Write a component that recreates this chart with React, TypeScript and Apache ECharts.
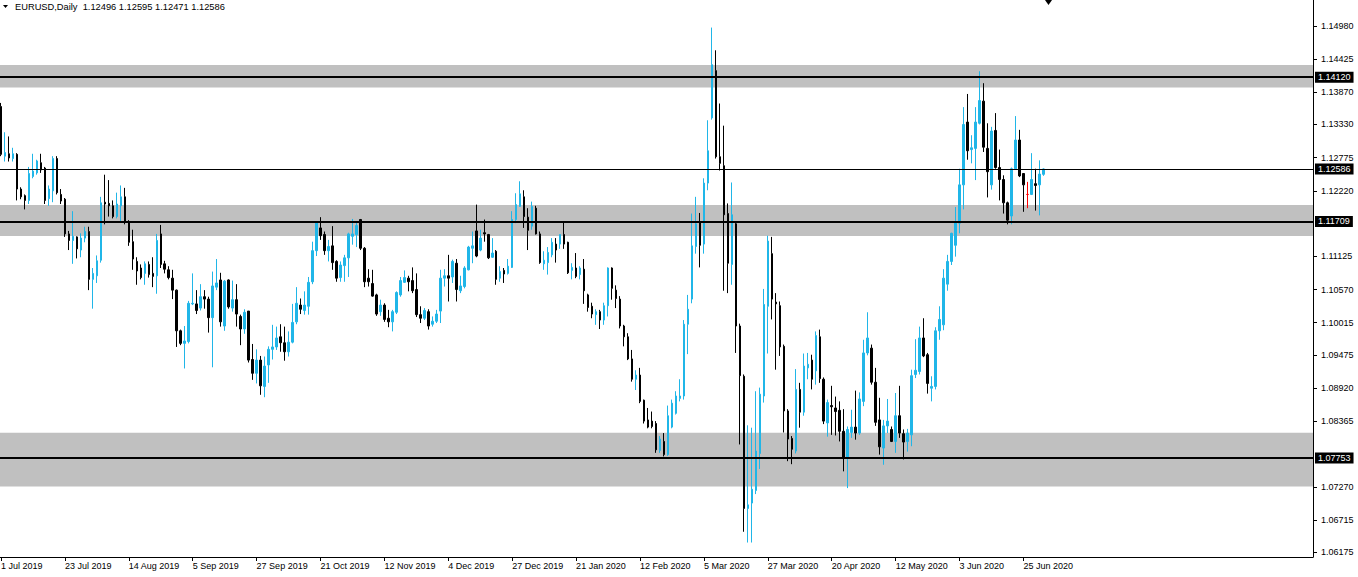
import React, { useEffect, useRef } from "react";
import * as echarts from "echarts";

// [open, high, low, close] per daily bar, EURUSD from 1 Jul 2019
const ohlc: [number, number, number, number][] = [
  [1.1363, 1.1369, 1.1280, 1.1283], [1.1280, 1.1320, 1.1271, 1.1286], [1.1284, 1.1313, 1.1271, 1.1277], [1.1276, 1.1294, 1.1271, 1.1284],
  [1.1283, 1.1285, 1.1206, 1.1225], [1.1225, 1.1228, 1.1208, 1.1212], [1.1214, 1.1216, 1.1191, 1.1206], [1.1206, 1.1262, 1.1200, 1.1251],
  [1.1246, 1.1284, 1.1243, 1.1255], [1.1252, 1.1274, 1.1249, 1.1272], [1.1269, 1.1284, 1.1252, 1.1257], [1.1260, 1.1262, 1.1200, 1.1206],
  [1.1209, 1.1231, 1.1197, 1.1225], [1.1222, 1.1280, 1.1203, 1.1276], [1.1276, 1.1280, 1.1216, 1.1219], [1.1216, 1.1225, 1.1200, 1.1205],
  [1.1208, 1.1210, 1.1145, 1.1150], [1.1150, 1.1155, 1.1123, 1.1139], [1.1139, 1.1188, 1.1100, 1.1146], [1.1145, 1.1146, 1.1109, 1.1125],
  [1.1123, 1.1151, 1.1111, 1.1143], [1.1143, 1.1162, 1.1136, 1.1154], [1.1154, 1.1162, 1.1056, 1.1074], [1.1074, 1.1093, 1.1025, 1.1084],
  [1.1080, 1.1114, 1.1068, 1.1105], [1.1106, 1.1212, 1.1102, 1.1202], [1.1203, 1.1249, 1.1166, 1.1200], [1.1201, 1.1240, 1.1179, 1.1197],
  [1.1197, 1.1206, 1.1176, 1.1179], [1.1179, 1.1219, 1.1176, 1.1200], [1.1197, 1.1231, 1.1170, 1.1212], [1.1212, 1.1227, 1.1166, 1.1170],
  [1.1170, 1.1173, 1.1130, 1.1136], [1.1137, 1.1157, 1.1090, 1.1108], [1.1104, 1.1111, 1.1065, 1.1088], [1.1093, 1.1099, 1.1074, 1.1077],
  [1.1084, 1.1104, 1.1065, 1.1100], [1.1099, 1.1104, 1.1077, 1.1082], [1.1084, 1.1111, 1.1061, 1.1079], [1.1080, 1.1150, 1.1050, 1.1139],
  [1.1150, 1.1165, 1.1093, 1.1099], [1.1100, 1.1105, 1.1084, 1.1091], [1.1090, 1.1096, 1.1074, 1.1077], [1.1076, 1.1090, 1.1041, 1.1056],
  [1.1056, 1.1057, 1.0961, 1.0988], [1.0988, 1.0990, 1.0964, 1.0967], [1.0967, 1.0996, 1.0925, 1.0971], [1.0970, 1.1038, 1.0967, 1.1034],
  [1.1033, 1.1084, 1.1031, 1.1034], [1.1033, 1.1056, 1.1016, 1.1022], [1.1026, 1.1066, 1.1022, 1.1045], [1.1045, 1.1056, 1.1025, 1.1041],
  [1.1041, 1.1045, 1.0985, 1.1010], [1.1010, 1.1087, 1.0927, 1.1063], [1.1061, 1.1108, 1.1056, 1.1068], [1.1073, 1.1085, 1.0995, 1.1003],
  [1.0996, 1.1073, 1.0988, 1.1071], [1.1073, 1.1074, 1.1025, 1.1028], [1.1026, 1.1072, 1.1020, 1.1040], [1.1040, 1.1066, 1.0995, 1.1016],
  [1.1012, 1.1015, 1.0964, 1.0991], [1.0991, 1.1024, 1.0983, 1.1019], [1.1021, 1.1021, 1.0935, 1.0939], [1.0940, 1.0966, 1.0906, 1.0917],
  [1.0917, 1.0957, 1.0900, 1.0939], [1.0939, 1.0946, 1.0881, 1.0896], [1.0895, 1.0945, 1.0877, 1.0929], [1.0931, 1.0962, 1.0901, 1.0957],
  [1.0957, 1.0998, 1.0940, 1.0961], [1.0961, 1.0995, 1.0956, 1.0976], [1.0978, 1.0999, 1.0953, 1.0968], [1.0968, 1.0995, 1.0938, 1.0953],
  [1.0953, 1.0987, 1.0945, 1.0969], [1.0969, 1.1033, 1.0967, 1.1002], [1.1003, 1.1061, 1.0999, 1.1034], [1.1031, 1.1042, 1.1016, 1.1024],
  [1.1022, 1.1054, 1.1015, 1.1031], [1.1029, 1.1078, 1.1015, 1.1069], [1.1070, 1.1137, 1.1066, 1.1122], [1.1122, 1.1171, 1.1113, 1.1169],
  [1.1160, 1.1178, 1.1140, 1.1147], [1.1149, 1.1154, 1.1115, 1.1122], [1.1122, 1.1140, 1.1104, 1.1129], [1.1130, 1.1163, 1.1090, 1.1102],
  [1.1104, 1.1106, 1.1070, 1.1076], [1.1077, 1.1104, 1.1070, 1.1098], [1.1097, 1.1115, 1.1070, 1.1110], [1.1110, 1.1152, 1.1078, 1.1150],
  [1.1146, 1.1175, 1.1132, 1.1150], [1.1149, 1.1169, 1.1128, 1.1164], [1.1174, 1.1175, 1.1123, 1.1126], [1.1126, 1.1128, 1.1061, 1.1070],
  [1.1076, 1.1091, 1.1062, 1.1070], [1.1067, 1.1090, 1.1045, 1.1046], [1.1048, 1.1050, 1.1013, 1.1016], [1.1020, 1.1040, 1.1013, 1.1031],
  [1.1031, 1.1034, 1.1003, 1.1007], [1.1009, 1.1023, 1.0994, 1.1003], [1.1003, 1.1023, 1.0987, 1.1020], [1.1019, 1.1054, 1.1016, 1.1052],
  [1.1048, 1.1078, 1.1045, 1.1072], [1.1069, 1.1089, 1.1068, 1.1077], [1.1076, 1.1080, 1.1054, 1.1070], [1.1072, 1.1094, 1.1051, 1.1055],
  [1.1057, 1.1084, 1.1011, 1.1015], [1.1015, 1.1029, 1.1001, 1.1009], [1.1009, 1.1026, 1.1006, 1.1022], [1.1020, 1.1024, 1.0990, 1.0996],
  [1.0999, 1.1012, 1.0995, 1.1004], [1.1004, 1.1023, 1.1001, 1.1016], [1.1021, 1.1090, 1.1001, 1.1076], [1.1076, 1.1091, 1.1062, 1.1080],
  [1.1080, 1.1115, 1.1037, 1.1076], [1.1078, 1.1107, 1.1068, 1.1104], [1.1101, 1.1108, 1.1037, 1.1057], [1.1055, 1.1080, 1.1051, 1.1063],
  [1.1062, 1.1096, 1.1059, 1.1093], [1.1090, 1.1130, 1.1089, 1.1128], [1.1126, 1.1154, 1.1101, 1.1130], [1.1155, 1.1199, 1.1111, 1.1113],
  [1.1123, 1.1157, 1.1121, 1.1143], [1.1152, 1.1174, 1.1137, 1.1150], [1.1149, 1.1150, 1.1108, 1.1110], [1.1111, 1.1143, 1.1110, 1.1118],
  [1.1121, 1.1123, 1.1065, 1.1074], [1.1076, 1.1096, 1.1070, 1.1087], [1.1089, 1.1093, 1.1068, 1.1083], [1.1084, 1.1108, 1.1082, 1.1096],
  [1.1094, 1.1188, 1.1093, 1.1174], [1.1174, 1.1218, 1.1168, 1.1199], [1.1196, 1.1238, 1.1195, 1.1217], [1.1212, 1.1223, 1.1160, 1.1179],
  [1.1178, 1.1193, 1.1123, 1.1156], [1.1163, 1.1204, 1.1157, 1.1196], [1.1193, 1.1197, 1.1149, 1.1150], [1.1150, 1.1154, 1.1100, 1.1102],
  [1.1100, 1.1121, 1.1090, 1.1106], [1.1102, 1.1128, 1.1082, 1.1119], [1.1115, 1.1143, 1.1111, 1.1136], [1.1133, 1.1143, 1.1102, 1.1123],
  [1.1133, 1.1149, 1.1125, 1.1149], [1.1149, 1.1171, 1.1125, 1.1133], [1.1136, 1.1137, 1.1083, 1.1085], [1.1089, 1.1101, 1.1074, 1.1094],
  [1.1093, 1.1118, 1.1076, 1.1079], [1.1082, 1.1096, 1.1074, 1.1093], [1.1091, 1.1108, 1.1033, 1.1055], [1.1048, 1.1050, 1.1020, 1.1027],
  [1.1029, 1.1035, 1.1009, 1.1016], [1.1015, 1.1024, 1.0998, 1.1020], [1.1020, 1.1023, 1.0991, 1.1006], [1.1006, 1.1035, 1.0998, 1.1030],
  [1.1030, 1.1094, 1.1012, 1.1093], [1.1093, 1.1094, 1.1040, 1.1059], [1.1056, 1.1064, 1.1026, 1.1042], [1.1041, 1.1046, 1.0992, 1.0996],
  [1.0996, 1.0998, 1.0962, 1.0978], [1.0978, 1.0984, 1.0939, 1.0941], [1.0941, 1.0956, 1.0903, 1.0907], [1.0907, 1.0922, 1.0889, 1.0914],
  [1.0914, 1.0926, 1.0867, 1.0870], [1.0872, 1.0873, 1.0833, 1.0837], [1.0839, 1.0859, 1.0825, 1.0827], [1.0837, 1.0853, 1.0825, 1.0828],
  [1.0833, 1.0837, 1.0784, 1.0789], [1.0788, 1.0812, 1.0784, 1.0807], [1.0803, 1.0817, 1.0778, 1.0781], [1.0781, 1.0863, 1.0779, 1.0846],
  [1.0827, 1.0873, 1.0825, 1.0867], [1.0850, 1.0887, 1.0848, 1.0879], [1.0875, 1.0907, 1.0870, 1.0879], [1.0879, 1.1006, 1.0873, 1.0999],
  [1.0999, 1.1048, 1.0949, 1.1024], [1.1041, 1.1184, 1.1034, 1.1130], [1.1129, 1.1212, 1.1117, 1.1167], [1.1170, 1.1185, 1.1094, 1.1131],
  [1.1133, 1.1243, 1.1117, 1.1235], [1.1235, 1.1340, 1.1223, 1.1289], [1.1344, 1.1495, 1.1341, 1.1433], [1.1423, 1.1457, 1.1276, 1.1279],
  [1.1279, 1.1368, 1.1256, 1.1268], [1.1264, 1.1331, 1.1055, 1.1182], [1.1184, 1.1201, 1.1051, 1.1101], [1.1099, 1.1236, 1.1065, 1.1182],
  [1.1167, 1.1171, 1.0951, 1.0996], [1.0996, 1.1000, 1.0798, 1.0913], [1.0912, 1.0915, 1.0652, 1.0691], [1.0691, 1.0830, 1.0634, 1.0697],
  [1.0700, 1.0826, 1.0634, 1.0723], [1.0721, 1.0887, 1.0715, 1.0787], [1.0783, 1.0893, 1.0757, 1.0882], [1.0879, 1.1058, 1.0868, 1.1032],
  [1.1029, 1.1147, 1.0950, 1.1138], [1.1117, 1.1145, 1.1007, 1.1041], [1.1036, 1.1051, 1.0923, 1.1033], [1.1030, 1.1037, 1.0946, 1.0961],
  [1.0962, 1.0965, 1.0818, 1.0854], [1.0854, 1.0857, 1.0770, 1.0807], [1.0808, 1.0812, 1.0765, 1.0790], [1.0787, 1.0924, 1.0783, 1.0890],
  [1.0890, 1.0901, 1.0826, 1.0852], [1.0852, 1.0950, 1.0846, 1.0929], [1.0926, 1.0951, 1.0907, 1.0932], [1.0939, 1.0948, 1.0890, 1.0907],
  [1.0921, 1.0987, 1.0898, 1.0980], [1.0978, 1.0990, 1.0901, 1.0908], [1.0907, 1.0910, 1.0832, 1.0837], [1.0834, 1.0873, 1.0811, 1.0868],
  [1.0863, 1.0896, 1.0814, 1.0861], [1.0859, 1.0878, 1.0813, 1.0853], [1.0855, 1.0870, 1.0803, 1.0820], [1.0820, 1.0857, 1.0753, 1.0777],
  [1.0775, 1.0828, 1.0725, 1.0823], [1.0818, 1.0856, 1.0809, 1.0827], [1.0827, 1.0888, 1.0806, 1.0817], [1.0817, 1.0885, 1.0814, 1.0874],
  [1.0870, 1.0973, 1.0862, 1.0951], [1.0951, 1.1019, 1.0947, 1.0976], [1.0959, 1.0965, 1.0898, 1.0902], [1.0902, 1.0926, 1.0829, 1.0835],
  [1.0839, 1.0876, 1.0781, 1.0794], [1.0792, 1.0839, 1.0764, 1.0829], [1.0829, 1.0874, 1.0817, 1.0837], [1.0823, 1.0828, 1.0802, 1.0803],
  [1.0803, 1.0884, 1.0784, 1.0846], [1.0846, 1.0896, 1.0809, 1.0817], [1.0816, 1.0823, 1.0773, 1.0802], [1.0803, 1.0824, 1.0786, 1.0817],
  [1.0814, 1.0923, 1.0795, 1.0913], [1.0915, 1.0974, 1.0909, 1.0922], [1.0920, 1.0995, 1.0915, 1.0976], [1.0976, 1.1009, 1.0944, 1.0946],
  [1.0948, 1.0951, 1.0883, 1.0900], [1.0892, 1.0912, 1.0870, 1.0895], [1.0895, 1.0994, 1.0890, 1.0988], [1.0988, 1.1029, 1.0973, 1.1007],
  [1.0998, 1.1091, 1.0989, 1.1076], [1.1066, 1.1115, 1.1055, 1.1104], [1.1104, 1.1152, 1.1098, 1.1151], [1.1131, 1.1195, 1.1112, 1.1169],
  [1.1168, 1.1259, 1.1151, 1.1232], [1.1232, 1.1362, 1.1191, 1.1333], [1.1337, 1.1384, 1.1274, 1.1289], [1.1291, 1.1315, 1.1268, 1.1294],
  [1.1293, 1.1362, 1.1240, 1.1337], [1.1335, 1.1422, 1.1333, 1.1373], [1.1372, 1.1402, 1.1287, 1.1295], [1.1293, 1.1335, 1.1211, 1.1254],
  [1.1232, 1.1329, 1.1224, 1.1322], [1.1323, 1.1352, 1.1259, 1.1261], [1.1261, 1.1291, 1.1206, 1.1241], [1.1241, 1.1248, 1.1184, 1.1202],
  [1.1202, 1.1204, 1.1166, 1.1173], [1.1180, 1.1261, 1.1166, 1.1259], [1.1259, 1.1347, 1.1257, 1.1307], [1.1307, 1.1324, 1.1245, 1.1247],
  [1.1251, 1.1251, 1.1187, 1.1232], [1.1216, 1.1237, 1.1193, 1.1216], [1.1216, 1.1285, 1.1215, 1.1241], [1.1234, 1.1259, 1.1189, 1.1231],
  [1.1232, 1.1273, 1.1181, 1.1250], [1.12496, 1.12595, 1.12471, 1.12586],
];

// index of the red doji bar
const dojiIndex = 257;

// holidays with no daily bar
const holidays = ["2019-12-25", "2020-01-01"];
const monthNames = ["Jan", "Feb", "Mar", "Apr", "May", "Jun", "Jul", "Aug", "Sep", "Oct", "Nov", "Dec"];
const firstDay = "2019-07-01";
const emptyBarsRight = 67;
const labelEvery = 16;

// horizontal levels: [price, line width]
const levelLines: [number, number][] = [
  [1.1412, 2],
  [1.12586, 1],
  [1.11709, 2],
  [1.07753, 2],
];

// grey supply/demand zones: [upper, lower]
const zones: [number, number][] = [
  [1.14324, 1.13948],
  [1.11983, 1.11465],
  [1.08176, 1.07276],
];

const priceTicks = [
  1.1498, 1.14425, 1.1387, 1.1333, 1.12775, 1.1222, 1.11125, 1.1057, 1.10015,
  1.09475, 1.0892, 1.08365, 1.0727, 1.06715, 1.06175,
];

const priceMin = 1.06098;
const priceMax = 1.15411;

const header = "EURUSD,Daily  1.12496 1.12595 1.12471 1.12586";

const BULL = "#20b6e8";
const BEAR = "#000000";
const FONT = "Liberation Sans";

function buildDates(count: number): string[] {
  const out: string[] = [];
  let t = Date.parse(firstDay + "T00:00:00Z");
  while (out.length < count) {
    const d = new Date(t);
    const iso = d.toISOString().slice(0, 10);
    const wd = d.getUTCDay();
    if (wd !== 0 && wd !== 6 && holidays.indexOf(iso) < 0) {
      out.push(`${d.getUTCDate()} ${monthNames[d.getUTCMonth()]} ${d.getUTCFullYear()}`);
    }
    t += 86400000;
  }
  return out;
}

export default function App() {
  const ref = useRef<HTMLDivElement>(null);

  useEffect(() => {
    if (!ref.current) return;
    const chart = echarts.init(ref.current, undefined, { renderer: "svg" });

    const dates = buildDates(ohlc.length);
    const categories = [...dates];
    for (let i = 0; i < emptyBarsRight; i++) categories.push("~" + i);

    const showAt = (index: number, value: string) =>
      index % labelEvery === 0 && typeof value === "string" && value.charAt(0) !== "~";

    const candleData = ohlc.map(([o, h, l, c], i) => {
      const item: any = { value: [o, c, l, h] };
      if (i === dojiIndex) {
        item.itemStyle = { color: "#ff0000", color0: "#ff0000", borderColor: "#ff0000", borderColor0: "#ff0000" };
      }
      return item;
    });

    const option: any = {
      animation: false,
      backgroundColor: "#ffffff",
      textStyle: { fontFamily: FONT },
      grid: { left: 0, right: 45, top: 0, bottom: 20, containLabel: false },
      xAxis: {
        type: "category",
        data: categories,
        boundaryGap: true,
        axisLine: { show: true, lineStyle: { color: "#000", width: 1 } },
        axisTick: { show: true, interval: showAt, alignWithLabel: true, length: 4, lineStyle: { color: "#000" } },
        axisLabel: {
          show: true,
          interval: showAt,
          align: "left",
          margin: 4,
          color: "#000",
          fontSize: 9,
          fontFamily: FONT,
        },
        splitLine: { show: false },
      },
      yAxis: {
        type: "value",
        position: "right",
        min: priceMin,
        max: priceMax,
        scale: true,
        axisLine: { show: true, lineStyle: { color: "#000", width: 1 } },
        axisTick: { show: true, length: 4, customValues: priceTicks, lineStyle: { color: "#000" } },
        axisLabel: {
          show: true,
          customValues: priceTicks,
          margin: 8,
          color: "#000",
          fontSize: 9,
          fontFamily: FONT,
          formatter: (v: number) => v.toFixed(5),
        },
        splitLine: { show: false },
      },
      series: [
        {
          type: "candlestick",
          data: candleData,
          barWidth: 2,
          clip: true,
          itemStyle: {
            color: BULL,
            color0: BEAR,
            borderColor: BULL,
            borderColor0: BEAR,
            borderWidth: 1,
          },
          markArea: {
            silent: true,
            itemStyle: { color: "#c0c0c0", opacity: 1 },
            label: { show: false },
            data: zones.map(([hi, lo]) => [{ yAxis: hi }, { yAxis: lo }]),
          },
          markLine: {
            silent: true,
            symbol: ["none", "none"],
            precision: 5,
            data: levelLines.map(([p, w]) => ({
              yAxis: p,
              lineStyle: { color: "#000", width: w, type: "solid" },
              label: {
                show: true,
                position: "end",
                distance: 2,
                formatter: p.toFixed(5),
                color: "#fff",
                backgroundColor: "#000",
                padding: [1, 3, 1, 3],
                fontSize: 9,
                fontFamily: FONT,
              },
            })),
          },
        },
      ],
      graphic: [
        {
          type: "polygon",
          shape: { points: [[5, 5], [10, 5], [7.5, 8]] },
          style: { fill: "#000" },
        },
        {
          type: "text",
          left: 17,
          top: 2,
          style: { text: header, fill: "#000", font: `9.3px "${FONT}"` },
        },
        {
          type: "polygon",
          shape: { points: [[1047, 0], [1054, 0], [1050.5, 5]] },
          style: { fill: "#000" },
        },
      ],
    };

    chart.setOption(option);
    return () => chart.dispose();
  }, []);

  // the chart is two pixels wider and shifted left so that bar i sits at x = 4i, as in the source terminal
  return (
    <div
      ref={ref}
      style={{ position: "fixed", left: -2, top: 0, width: 1360, height: 577, background: "#fff" }}
    />
  );
}
